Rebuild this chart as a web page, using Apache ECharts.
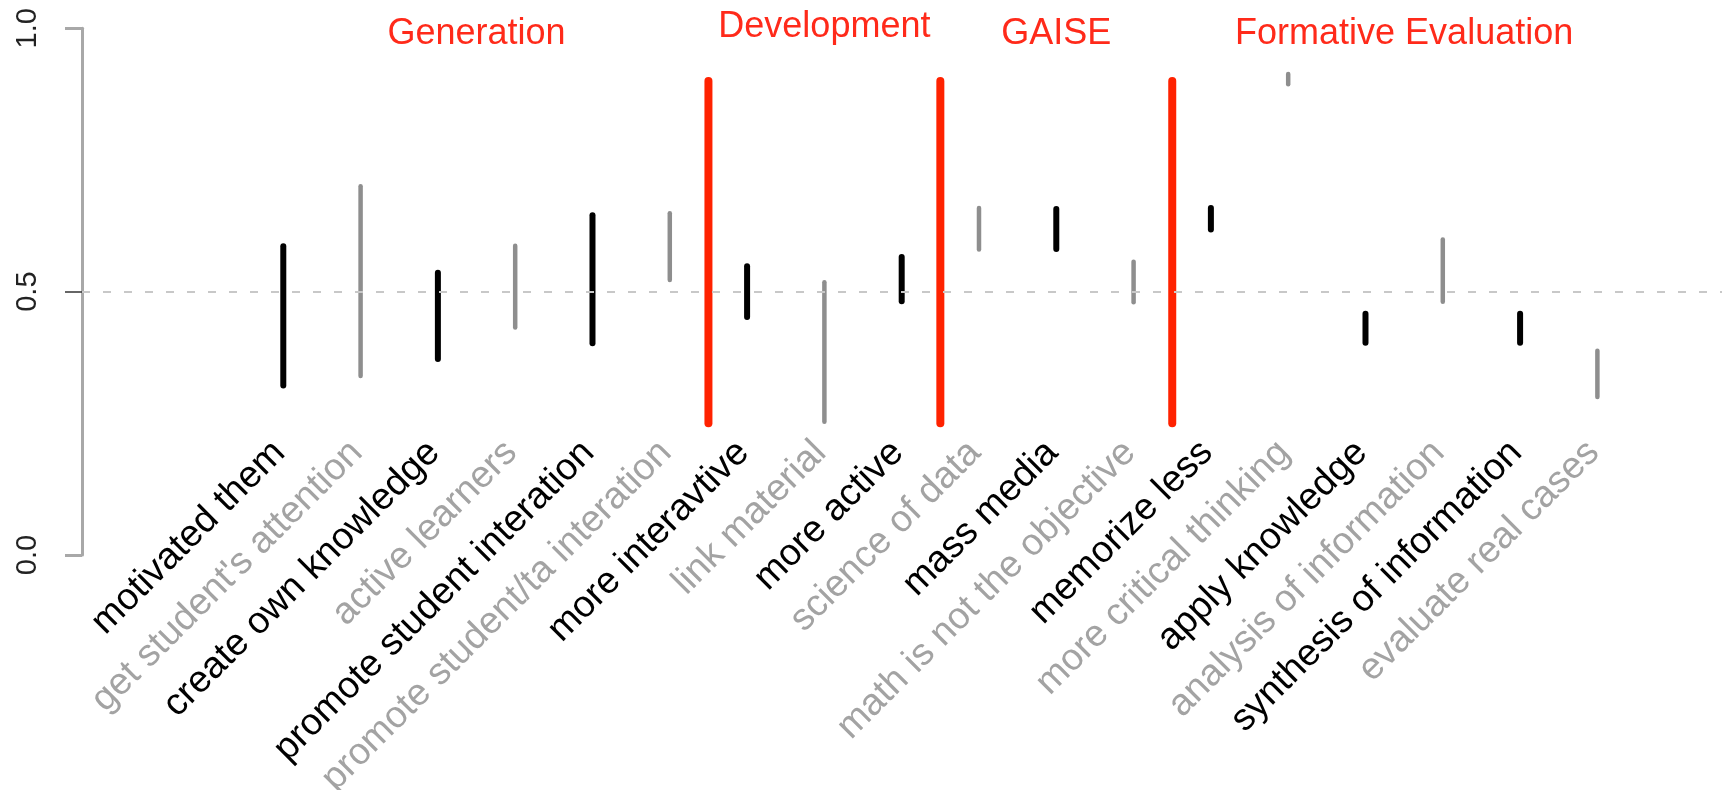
<!DOCTYPE html>
<html>
<head>
<meta charset="utf-8">
<script src="https://cdn.jsdelivr.net/npm/echarts@6/dist/echarts.min.js"></script>
<style>
  html, body { margin: 0; padding: 0; background: #ffffff; }
  #chart { width: 1722px; height: 790px; }
</style>
</head>
<body>
<div id="chart"></div>
<script>
// Statements, in plotting order (left to right)
const categories = [
  'motivated them', "get student's attention", 'create own knowledge', 'active learners',
  'promote student interation', 'promote student/ta interation',
  'more interavtive', 'link material', 'more active',
  'science of data', 'mass media', 'math is not the objective',
  'memorize less', 'more critical thinking', 'apply knowledge',
  'analysis of information', 'synthesis of information', 'evaluate real cases'
];
// Lower and upper end of each interval
const lowValues = [
  0.322, 0.340, 0.372, 0.432, 0.402, 0.522,
  0.452, 0.253, 0.482,
  0.580, 0.581, 0.480,
  0.618, 0.894, 0.403,
  0.481, 0.403, 0.300
];
const highValues = [
  0.586, 0.700, 0.536, 0.587, 0.645, 0.649,
  0.548, 0.518, 0.566,
  0.659, 0.657, 0.557,
  0.659, 0.913, 0.458,
  0.599, 0.458, 0.388
];
// Groups of consecutive statements
const groupNames = ['Generation', 'Development', 'GAISE', 'Formative Evaluation'];
const groupSizes = [6, 3, 3, 6];
// Vertical extent of the group separators
const dividerRange = [0.25, 0.9];
// Reference level and y-axis ticks
const referenceLevel = 0.5;
const yTicks = [0, 0.5, 1];

const FONT = '"Liberation Sans", Arial, Helvetica, sans-serif';
const LABEL_Y = 0.205;
const TITLE_Y = 1.0;

// group boundaries and centres in axis units (statement i sits at x = i + 1)
const dividers = [];
const groupCenters = [];
let start = 1;
groupSizes.forEach((n, g) => {
  const end = start + n - 1;
  groupCenters.push([(start + end) / 2, TITLE_Y, g]);
  if (g < groupSizes.length - 1) dividers.push([end + 0.5, dividerRange[0], dividerRange[1]]);
  start = end + 1;
});

const intervalData = categories.map((c, i) => [i + 1, lowValues[i], highValues[i], i]);

const chart = echarts.init(document.getElementById('chart'), null, { renderer: 'canvas' });

chart.setOption({
  animation: false,
  backgroundColor: '#ffffff',
  grid: { left: 82, right: 0, top: 28.3, bottom: 235, containLabel: false, outerBoundsMode: 'none' },
  xAxis: { type: 'value', min: -1.604, max: 19.612, show: false },
  yAxis: [
    {
      type: 'value', min: 0, max: 1, interval: 0.5,
      splitLine: { show: false },
      axisLine: { show: true, onZero: false, lineStyle: { color: '#a8a8a8', width: 3 } },
      axisTick: {
        show: true, inside: false, length: 17,
        customValues: yTicks.filter(v => v !== referenceLevel),
        lineStyle: { color: '#a8a8a8', width: 3 }
      },
      axisLabel: {
        rotate: 90, margin: 40, fontSize: 29, color: '#222222', fontFamily: FONT,
        customValues: yTicks,
        formatter: v => v.toFixed(1)
      }
    },
    {
      // darker tick marking the reference level
      type: 'value', min: 0, max: 1, interval: 0.5, position: 'left',
      splitLine: { show: false },
      axisLine: { show: false, onZero: false },
      axisLabel: { show: false },
      axisTick: {
        show: true, inside: false, length: 17,
        customValues: [referenceLevel],
        lineStyle: { color: '#333333', width: 1.5 }
      }
    }
  ],
  series: [
    {
      // dashed reference line
      type: 'line', data: [], silent: true,
      markLine: {
        silent: true, symbol: ['none', 'none'], label: { show: false },
        lineStyle: { type: [8, 13], color: '#c8c8c8', width: 2 },
        data: [{ yAxis: referenceLevel }]
      }
    },
    {
      // statement intervals with their rotated labels
      type: 'custom', clip: false,
      data: intervalData,
      renderItem: (params, api) => {
        const x = api.value(0);
        const idx = api.value(3);
        const dark = idx % 2 === 0;
        const p1 = api.coord([x, api.value(1)]);
        const p2 = api.coord([x, api.value(2)]);
        const lab = api.coord([x, LABEL_Y]);
        return {
          type: 'group',
          children: [
            {
              type: 'line',
              shape: { x1: p1[0], y1: p1[1], x2: p2[0], y2: p2[1] },
              style: { stroke: dark ? '#000000' : '#8e8e8e', lineWidth: dark ? 6 : 4.5, lineCap: 'round' }
            },
            {
              type: 'text',
              x: lab[0] - 4, y: lab[1],
              rotation: Math.PI / 4,
              style: {
                text: categories[idx], font: '37.5px ' + FONT,
                fill: dark ? '#000000' : '#a3a3a3',
                align: 'right', verticalAlign: 'middle'
              }
            }
          ]
        };
      }
    },
    {
      // red group separators
      type: 'custom', clip: false,
      data: dividers,
      renderItem: (params, api) => {
        const p1 = api.coord([api.value(0), api.value(1)]);
        const p2 = api.coord([api.value(0), api.value(2)]);
        return {
          type: 'line',
          shape: { x1: p1[0], y1: p1[1], x2: p2[0], y2: p2[1] },
          style: { stroke: '#ff2200', lineWidth: 8, lineCap: 'round' }
        };
      }
    },
    {
      // group titles
      type: 'custom', clip: false,
      data: groupCenters,
      renderItem: (params, api) => {
        const name = groupNames[api.value(2)];
        const p = api.coord([api.value(0), api.value(1)]);
        // centre on the inked height, so descenders lift the word slightly
        const lift = /[gjpqy]/.test(name) ? 7 : 0;
        return {
          type: 'text',
          x: p[0], y: p[1] + 6 - lift,
          style: {
            text: name, font: '36px ' + FONT, fill: '#ff2a1a',
            align: 'center', verticalAlign: 'middle'
          }
        };
      }
    }
  ]
});
</script>
</body>
</html>
